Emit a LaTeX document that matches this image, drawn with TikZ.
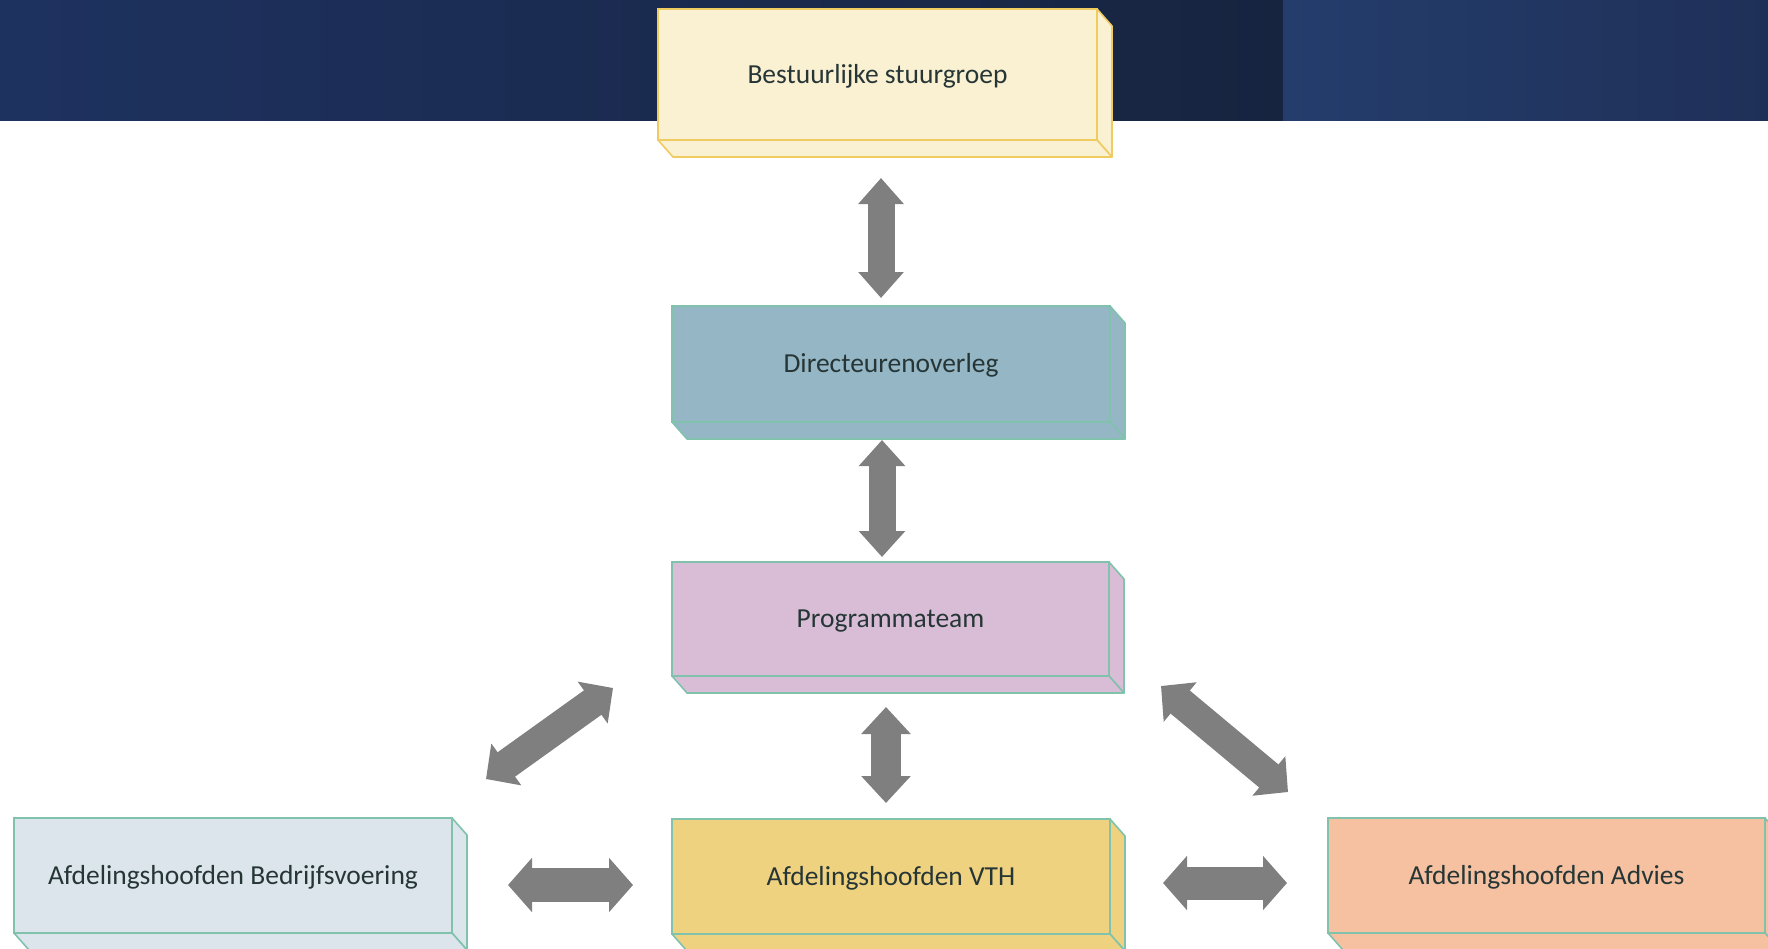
\documentclass[tikz,border=0pt]{standalone}
\usepackage{fontspec}
\setmainfont{Carlito}
\usetikzlibrary{arrows.meta,calc}
\definecolor{hdrA}{HTML}{1E3260}
\definecolor{hdrB}{HTML}{172440}
\definecolor{hdrC}{HTML}{243D6C}
\definecolor{hdrD}{HTML}{1F3058}
\definecolor{txt}{HTML}{263636}
\definecolor{agray}{HTML}{7F7F7F}
\definecolor{f1}{HTML}{FAF0D2}\definecolor{s1}{HTML}{F0CB60}
\definecolor{f2}{HTML}{95B6C5}\definecolor{s2}{HTML}{80C2AC}
\definecolor{f3}{HTML}{D9BDD6}
\definecolor{f4}{HTML}{DCE5EC}
\definecolor{f5}{HTML}{EFD27F}
\definecolor{f6}{HTML}{F5C1A0}
\tikzset{
  blk/.style={draw, line width=1.6pt, anchor=north west, inner sep=0pt, outer sep=0pt,
    text height=20pt, text depth=3pt,
    text=txt, font=\fontsize{27.5}{33}\selectfont},
  face/.style={line width=1.6pt, line join=round},
  barrow/.style n args={3}{draw=agray, line width=#1pt,
    arrows={Triangle[width=#2pt,length=#3pt]-Triangle[width=#2pt,length=#3pt]}}
}
\newcommand\cubeblk[8]{%
  \node[blk, fill=#6, draw=#7, minimum width=#4pt, minimum height=#5pt] (#1) at (#2,#3) {#8};
  \filldraw[face, fill=#6, draw=#7] (#1.north east) -- ++(15,17) -- ($(#1.south east)+(15,17)$) -- (#1.south east) -- cycle;
  \filldraw[face, fill=#6, draw=#7] (#1.south west) -- ++(15,17) -- ($(#1.south east)+(15,17)$) -- (#1.south east) -- cycle;
}
\begin{document}
\begin{tikzpicture}[x=1pt,y=-1pt]
\useasboundingbox (0,0) rectangle (1768,948);
\clip (0,0) rectangle (1768,948);
% header band
\shade[left color=hdrA, right color=hdrB] (0,0) rectangle (1283,120);
\shade[left color=hdrC, right color=hdrD] (1283,0) rectangle (1768,120);
% blocks
\cubeblk{b1}{658}{9}{439}{131}{f1}{s1}{Bestuurlijke stuurgroep}
\cubeblk{b2}{672}{306}{438}{116}{f2}{s2}{Directeurenoverleg}
\cubeblk{b3}{672}{562}{437}{114}{f3}{s2}{Programmateam}
\cubeblk{b4}{14}{818}{438}{115}{f4}{s2}{Afdelingshoofden Bedrijfsvoering}
\cubeblk{b5}{672}{819}{438}{115}{f5}{s2}{Afdelingshoofden VTH}
\cubeblk{b6}{1328}{818}{437}{115}{f6}{s2}{Afdelingshoofden Advies}
% arrow end points
\coordinate (a1s) at (881,178); \coordinate (a1e) at (881,298);
\coordinate (a2s) at (882,440); \coordinate (a2e) at (882,557);
\coordinate (a3s) at (886,707); \coordinate (a3e) at (886,803);
\coordinate (a4s) at (508,885); \coordinate (a4e) at (633,885);
\coordinate (a5s) at (1163,883); \coordinate (a5e) at (1287,883);
\coordinate (a6s) at (613,688); \coordinate (a6e) at (486,779);
\coordinate (a7s) at (1161,686); \coordinate (a7e) at (1288,792);
% arrows
\draw[barrow={27}{44}{26}] (a1s) -- (a1e);
\draw[barrow={27}{45}{26}] (a2s) -- (a2e);
\draw[barrow={30}{48}{27}] (a3s) -- (a3e);
\draw[barrow={34}{53}{24}] (a4s) -- (a4e);
\draw[barrow={33}{53}{24}] (a5s) -- (a5e);
\draw[barrow={30}{50}{25}] (a6s) -- (a6e);
\draw[barrow={30}{50}{25}] (a7s) -- (a7e);
\end{tikzpicture}
\end{document}
